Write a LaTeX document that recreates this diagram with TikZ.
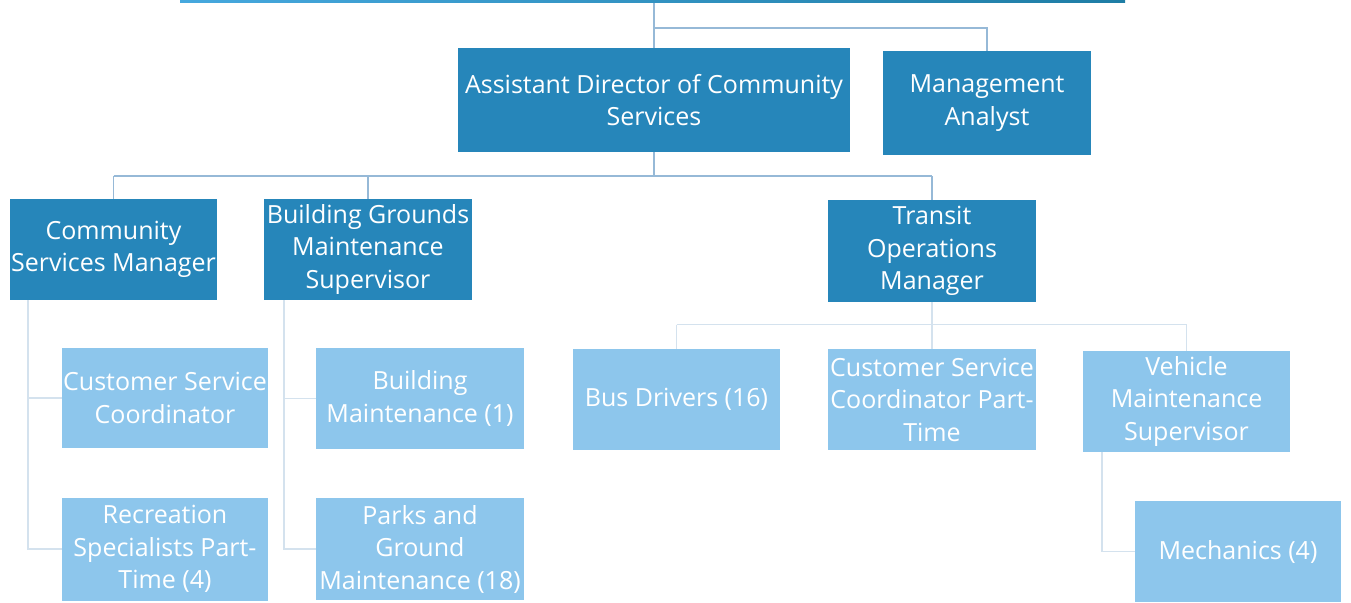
\documentclass[tikz,border=0pt]{standalone}
\usepackage{fontspec}
\setmainfont{Open Sans}
\usetikzlibrary{calc}
\definecolor{darkbox}{RGB}{38,134,186}
\definecolor{lightbox}{RGB}{141,198,236}
\definecolor{connA}{RGB}{150,185,215}
\definecolor{connB}{RGB}{212,226,238}
\definecolor{barL}{RGB}{70,168,222}
\definecolor{barR}{RGB}{30,125,165}
\begin{document}
\begin{tikzpicture}[x=1pt,y=-1pt,
  base/.style={rectangle,inner sep=0pt,align=center,text=white,
    font=\fontsize{25}{32.5}\selectfont},
  dbox/.style={base,fill=darkbox},
  lbox/.style={base,fill=lightbox},
  connup/.style={draw=connA,line width=1.6pt},
  conndown/.style={draw=connB,line width=1.6pt}]
\useasboundingbox (0,0) rectangle (1351,602);
\fill[white] (0,0) rectangle (1351,602);
\node[rectangle,inner sep=0pt,minimum width=945,minimum height=40,left color=barL,right color=barR] (topbar) at (652.5,-17) {};
\node[dbox,minimum width=392,minimum height=104] (ad) at (654,100) {Assistant Director of Community\\Services};
\node[dbox,minimum width=208,minimum height=104] (ma) at (987,103) {Management\\Analyst};
\node[dbox,minimum width=207,minimum height=101] (csm) at (113.5,249.5) {Community\\Services Manager};
\node[dbox,minimum width=208,minimum height=101] (bgms) at (368,249.5) {Building Grounds\\Maintenance\\Supervisor};
\node[dbox,minimum width=208,minimum height=102] (tom) at (932,251) {Transit\\Operations\\Manager};
\node[lbox,minimum width=206,minimum height=100] (csc) at (165,398) {Customer Service\\Coordinator};
\node[lbox,minimum width=206,minimum height=103] (rsp) at (165,549) {Recreation\\Specialists Part-\\Time (4)};
\node[lbox,minimum width=208,minimum height=101] (bm) at (420,398.5) {Building\\Maintenance (1)};
\node[lbox,minimum width=208,minimum height=102] (pgm) at (420,549) {Parks and\\Ground\\Maintenance (18)};
\node[lbox,minimum width=207,minimum height=101] (bd) at (676.5,399.5) {Bus Drivers (16)};
\node[lbox,minimum width=208,minimum height=101] (cscpt) at (932,399.5) {Customer Service\\Coordinator Part-\\Time};
\node[lbox,minimum width=207,minimum height=101] (vms) at (1186.5,401.5) {Vehicle\\Maintenance\\Supervisor};
\node[lbox,minimum width=206,minimum height=101] (mech) at (1238,551.5) {Mechanics (4)};
% top connectors
\coordinate (j0) at ($(topbar.south -| ad.north)!0.55!(ad.north)$);
\draw[connup] (topbar.south -| ad.north) -- (ad.north);
\draw[connup] (j0) -| (ma.north);
% second level
\coordinate (j1) at ($(ad.south)!0.5!(ad.south |- tom.north)$);
\draw[connup] (ad.south) -- (j1);
\draw[connup] (j1 -| csm.north) -- (j1 -| tom.north);
\draw[connup] (j1 -| csm.north) -- (csm.north);
\draw[connup] (j1 -| bgms.north) -- (bgms.north);
\draw[connup] (j1 -| tom.north) -- (tom.north);
% transit children
\coordinate (j2) at ($(tom.south)!0.48!(tom.south |- bd.north)$);
\draw[conndown] (tom.south) -- (cscpt.north);
\draw[conndown] (j2 -| bd.north) -- (bd.north);
\draw[conndown] (j2 -| bd.north) -- (j2 -| vms.north) -- (vms.north);
% community services children
\coordinate (c0) at ($(csm.south west)+(18,0)$);
\draw[conndown] (c0) |- (csc.west);
\draw[conndown] (c0) |- (rsp.west);
% building grounds children
\coordinate (b0) at ($(bgms.south west)+(20,0)$);
\draw[conndown] (b0) |- (bm.west);
\draw[conndown] (b0) |- (pgm.west);
% vehicle maintenance children
\coordinate (v0) at ($(vms.south west)+(19,0)$);
\draw[conndown] (v0) |- (mech.west);
\end{tikzpicture}
\end{document}
